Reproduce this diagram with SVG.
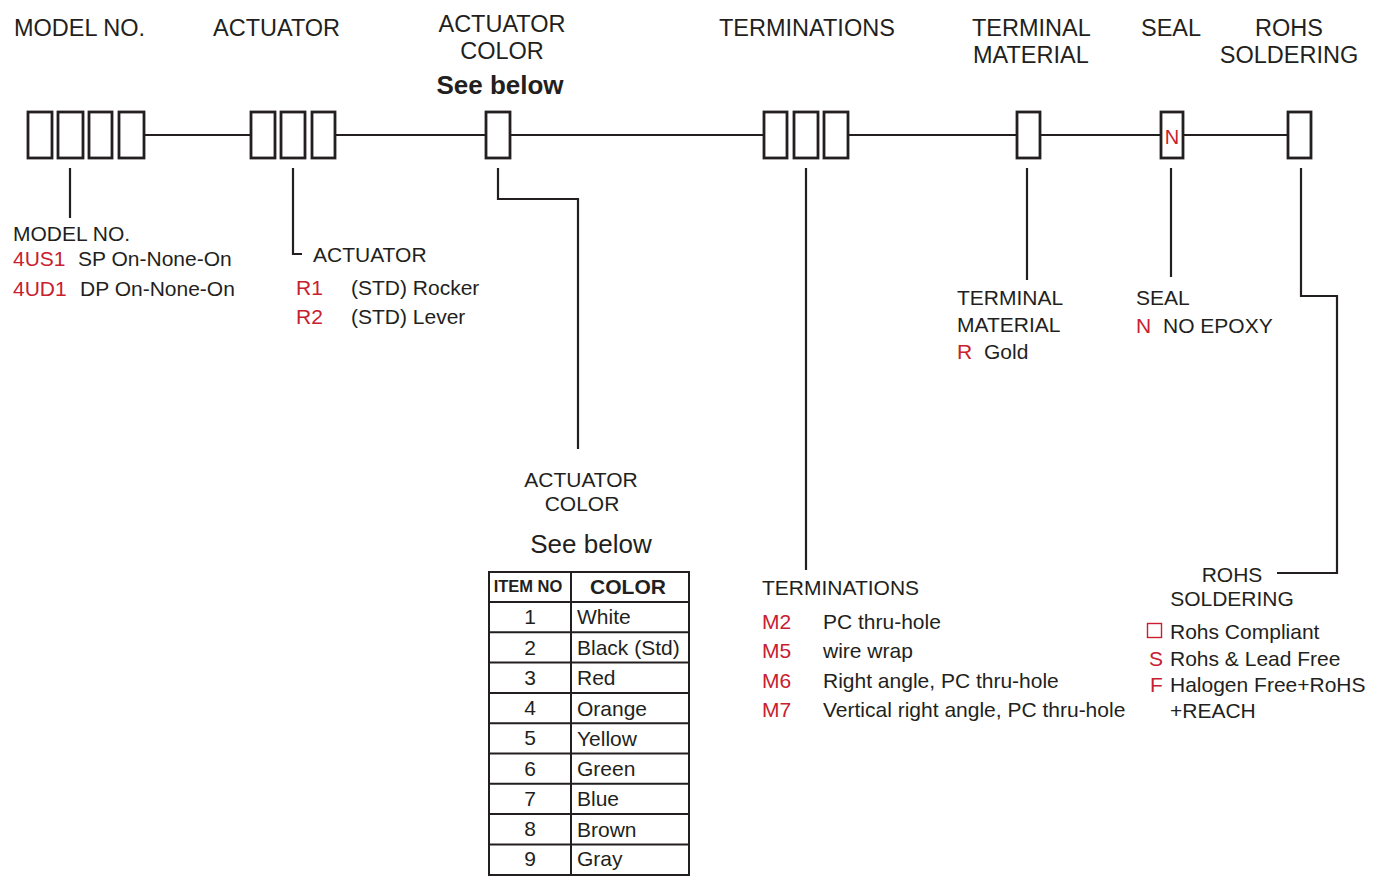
<svg xmlns="http://www.w3.org/2000/svg" width="1375" height="876" viewBox="0 0 1375 876">
<style>
text{font-family:"Liberation Sans",Arial,sans-serif;fill:#231f20}
.h{font-size:23.5px}
.b{font-size:21px}
.r{fill:#c8202f}
.c{text-anchor:middle}
.box{fill:#fff;stroke:#231f20;stroke-width:2.8}
.ln{fill:none;stroke:#231f20;stroke-width:2.2}
.tb{fill:none;stroke:#231f20;stroke-width:2}
</style>
<rect width="1375" height="876" fill="#fff"/>
<g id="connectors">
<path class="ln" d="M144 135H251M335 135H486M510 135H764M848 135H1017M1040 135H1161M1183 135H1288"/>
<path class="ln" d="M70 168V218"/>
<path class="ln" d="M293 168V254H302"/>
<path class="ln" d="M498 168V199H578V449"/>
<path class="ln" d="M806 168V570"/>
<path class="ln" d="M1027 168V280"/>
<path class="ln" d="M1171 168V277"/>
<path class="ln" d="M1301 168V296H1337V573H1277"/>
</g>
<g id="model-no">
<text class="h" x="14" y="36">MODEL NO.</text>
<rect class="box" x="28" y="112" width="24" height="46"/>
<rect class="box" x="58" y="112" width="25" height="46"/>
<rect class="box" x="89" y="112" width="23" height="46"/>
<rect class="box" x="119" y="112" width="25" height="46"/>
<text class="b" x="13" y="241">MODEL NO.</text>
<text class="b r" x="13" y="266">4US1</text><text class="b" x="78" y="266">SP On-None-On</text>
<text class="b r" x="13" y="296">4UD1</text><text class="b" x="80" y="296">DP On-None-On</text>
</g>
<g id="actuator">
<text class="h" x="213" y="36">ACTUATOR</text>
<rect class="box" x="251" y="112" width="24" height="46"/>
<rect class="box" x="281" y="112" width="24" height="46"/>
<rect class="box" x="312" y="112" width="23" height="46"/>
<text class="b" x="313" y="262">ACTUATOR</text>
<text class="b r" x="296" y="295">R1</text><text class="b" x="351" y="295">(STD) Rocker</text>
<text class="b r" x="296" y="324">R2</text><text class="b" x="351" y="324">(STD) Lever</text>
</g>
<g id="actuator-color">
<text class="h c" x="502" y="32">ACTUATOR</text>
<text class="h c" x="502" y="59">COLOR</text>
<text class="c" x="500" y="94" style="font-size:26px;font-weight:bold">See below</text>
<rect class="box" x="486" y="112" width="24" height="46"/>
<text class="b c" x="581" y="487">ACTUATOR</text>
<text class="b c" x="582" y="511">COLOR</text>
<text class="c" x="591" y="553" style="font-size:26px">See below</text>
</g>
<g id="color-table">
<rect class="tb" x="489" y="572" width="200" height="303"/>
<path class="tb" d="M571 572V875M489 602H689M489 632.3H689M489 662.6H689M489 692.9H689M489 723.2H689M489 753.5H689M489 783.8H689M489 814.1H689M489 844.4H689"/>
<text x="528" y="592" class="c" style="font-size:16.5px;font-weight:bold">ITEM NO</text>
<text x="628" y="594" class="c" style="font-size:21px;font-weight:bold">COLOR</text>
<g class="b">
<text class="c" x="530" y="624">1</text><text x="577" y="624">White</text>
<text class="c" x="530" y="655">2</text><text x="577" y="655">Black (Std)</text>
<text class="c" x="530" y="685">3</text><text x="577" y="685">Red</text>
<text class="c" x="530" y="715">4</text><text x="577" y="716">Orange</text>
<text class="c" x="530" y="745">5</text><text x="577" y="746">Yellow</text>
<text class="c" x="530" y="776">6</text><text x="577" y="776">Green</text>
<text class="c" x="530" y="806">7</text><text x="577" y="806">Blue</text>
<text class="c" x="530" y="836">8</text><text x="577" y="837">Brown</text>
<text class="c" x="530" y="866">9</text><text x="577" y="866">Gray</text>
</g>
</g>
<g id="terminations">
<text class="h" x="719" y="36">TERMINATIONS</text>
<rect class="box" x="764" y="112" width="23" height="46"/>
<rect class="box" x="794" y="112" width="24" height="46"/>
<rect class="box" x="824" y="112" width="24" height="46"/>
<text class="b" x="762" y="595">TERMINATIONS</text>
<text class="b r" x="762" y="629">M2</text><text class="b" x="823" y="629">PC thru-hole</text>
<text class="b r" x="762" y="658">M5</text><text class="b" x="823" y="658">wire wrap</text>
<text class="b r" x="762" y="688">M6</text><text class="b" x="823" y="688">Right angle, PC thru-hole</text>
<text class="b r" x="762" y="717">M7</text><text class="b" x="823" y="717">Vertical right angle, PC thru-hole</text>
</g>
<g id="terminal-material">
<text class="h" x="972" y="36">TERMINAL</text>
<text class="h" x="973" y="63">MATERIAL</text>
<rect class="box" x="1017" y="112" width="23" height="46"/>
<text class="b" x="957" y="305">TERMINAL</text>
<text class="b" x="957" y="332">MATERIAL</text>
<text class="b r" x="957" y="359">R</text><text class="b" x="984" y="359">Gold</text>
</g>
<g id="seal">
<text class="h" x="1141" y="36">SEAL</text>
<rect class="box" x="1161" y="112" width="22" height="46"/>
<text class="r c" x="1172" y="144" style="font-size:20px">N</text>
<text class="b" x="1136" y="305">SEAL</text>
<text class="b r" x="1136" y="333">N</text><text class="b" x="1163" y="333">NO EPOXY</text>
</g>
<g id="rohs-soldering">
<text class="h c" x="1289" y="36">ROHS</text>
<text class="h c" x="1289" y="63">SOLDERING</text>
<rect class="box" x="1288" y="112" width="23" height="46"/>
<text class="b c" x="1232" y="582">ROHS</text>
<text class="b c" x="1232" y="606">SOLDERING</text>
<rect x="1147.5" y="623.5" width="14" height="14" fill="none" stroke="#c8202f" stroke-width="1.4"/>
<text class="b" x="1170" y="639">Rohs Compliant</text>
<text class="b r" x="1149" y="666">S</text><text class="b" x="1170" y="666">Rohs &amp; Lead Free</text>
<text class="b r" x="1150" y="692">F</text><text class="b" x="1170" y="692">Halogen Free+RoHS</text>
<text class="b" x="1170" y="718">+REACH</text>
</g>
</svg>
